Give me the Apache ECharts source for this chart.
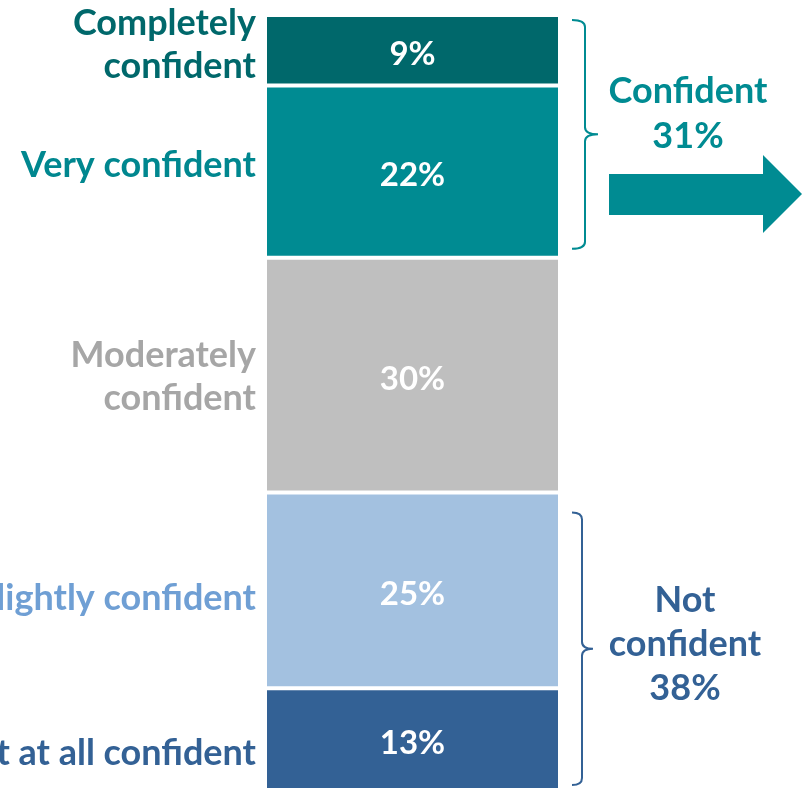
<!DOCTYPE html>
<html>
<head>
<meta charset="utf-8">
<script src="https://cdn.jsdelivr.net/npm/echarts@6/dist/echarts.min.js"></script>
<style>
  html, body { margin: 0; padding: 0; background: #fff; }
  #chart { width: 803px; height: 791px; }
</style>
</head>
<body>
<div id="chart"></div>
<script>
// stacked bottom -> top
const categories = ['Not at all confident', 'Slightly confident', 'Moderately confident', 'Very confident', 'Completely confident'];
const values = [13, 25, 30, 22, 9];
const displayNames = ['Not at all confident', 'Slightly confident', 'Moderately\nconfident', 'Very confident', 'Completely\nconfident'];
const confidentIdx = [3, 4];
const notConfidentIdx = [0, 1];

const barColors = ['#336195', '#A3C1E0', '#BFBFBF', '#008B92', '#00686B'];
const nameColors = ['#336195', '#6F9FD4', '#A6A6A6', '#00878F', '#00686B'];
const nameNudge = [14, 8, 2, -6, -5];
const FONT = 'Lato';
const barPx = 295;

const cum = [];
values.reduce((acc, v, i) => { cum[i] = acc; return acc + v; }, 0);
const total = values.reduce((a, b) => a + b, 0);
const sumOf = idx => idx.reduce((a, i) => a + values[i], 0);

// brace groups: [from value, to value, colour, inset top, inset bottom, hook x, spine x, tip x]
const groups = [
  [cum[confidentIdx[0]], total, '#008B92', 5, 9, 572, 585, 598],
  [0, cum[notConfidentIdx[1]] + values[notConfidentIdx[1]], '#336195', 20, 5, 572, 582, 593]
];

const chart = echarts.init(document.getElementById('chart'));

const barSeries = categories.map((name, i) => ({
  name: name,
  type: 'bar',
  stack: 'all',
  barWidth: barPx,
  data: [values[i]],
  itemStyle: { color: barColors[i], borderColor: '#fff', borderWidth: 2 },
  label: {
    show: true,
    position: 'inside',
    offset: [0, 4],
    formatter: '{c}%',
    color: '#fff',
    fontFamily: FONT,
    fontWeight: 'bold',
    fontSize: 33
  },
  silent: true
}));

const nameSeries = {
  type: 'custom',
  data: values.map((v, i) => [0, cum[i] + v / 2, i]),
  renderItem: function (params, api) {
    const i = api.value(2);
    const p = api.coord([0, api.value(1)]);
    return {
      type: 'text',
      x: p[0] - barPx / 2 - 9,
      y: p[1] + nameNudge[i],
      style: {
        text: displayNames[i],
        textAlign: 'right',
        textVerticalAlign: 'middle',
        fill: nameColors[i],
        font: 'bold 36px ' + FONT,
        lineHeight: 43
      }
    };
  },
  silent: true
};

const braceSeries = {
  type: 'custom',
  data: groups.map((g, i) => [0, g[0], g[1], i]),
  renderItem: function (params, api) {
    const g = groups[api.value(3)];
    const y1 = api.coord([0, api.value(1)])[1] - g[4];
    const y0 = api.coord([0, api.value(2)])[1] + g[3];
    const ym = (y0 + y1) / 2;
    const xh = g[5], xs = g[6], xt = g[7], r = 7;
    return {
      type: 'path',
      shape: {
        pathData: 'M' + xh + ',' + y0 +
          ' Q' + xs + ',' + y0 + ' ' + xs + ',' + (y0 + r) +
          ' L' + xs + ',' + (ym - r) +
          ' Q' + xs + ',' + ym + ' ' + xt + ',' + ym +
          ' Q' + xs + ',' + ym + ' ' + xs + ',' + (ym + r) +
          ' L' + xs + ',' + (y1 - r) +
          ' Q' + xs + ',' + y1 + ' ' + xh + ',' + y1
      },
      style: { stroke: g[2], lineWidth: 2, fill: null }
    };
  },
  silent: true
};

chart.setOption({
  animation: false,
  grid: { left: 265, right: 803 - 265 - barPx, top: 15, bottom: 1 },
  xAxis: { type: 'category', data: [''], show: false },
  yAxis: { type: 'value', min: 0, max: total, show: false },
  series: barSeries.concat([nameSeries, braceSeries]),
  graphic: [
    {
      type: 'text',
      x: 688, y: 114,
      style: {
        text: 'Confident\n' + sumOf(confidentIdx) + '%',
        textAlign: 'center', textVerticalAlign: 'middle',
        fill: '#008B92', font: 'bold 36px ' + FONT, lineHeight: 45
      }
    },
    {
      type: 'polygon',
      shape: { points: [[609, 174], [763, 174], [763, 155], [802, 194], [763, 233], [763, 215], [609, 215]] },
      style: { fill: '#008B92' }
    },
    {
      type: 'text',
      x: 685, y: 644,
      style: {
        text: 'Not\nconfident\n' + sumOf(notConfidentIdx) + '%',
        textAlign: 'center', textVerticalAlign: 'middle',
        fill: '#336195', font: 'bold 36px ' + FONT, lineHeight: 44
      }
    }
  ]
});
</script>
</body>
</html>
